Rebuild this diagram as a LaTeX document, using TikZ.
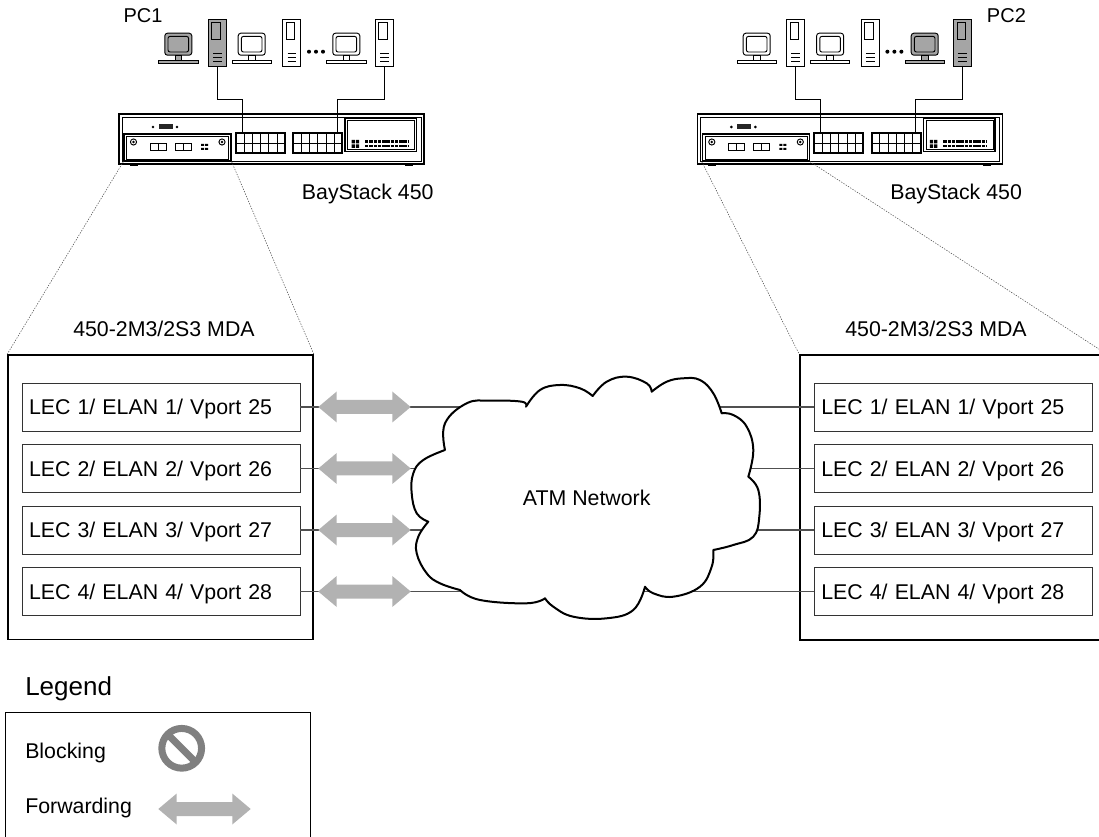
\documentclass[tikz,border=0pt]{standalone}
\usepackage{fontspec}
\setmainfont{Liberation Sans}
\usetikzlibrary{calc}
\definecolor{pcgray}{RGB}{165,165,165}
\definecolor{fwdgray}{RGB}{178,178,178}
\definecolor{blkgray}{RGB}{128,128,128}
\definecolor{linkgray}{RGB}{80,80,80}

\begin{document}
\begin{tikzpicture}[x=0.75pt,y=-0.75pt,
  lbl/.style={font=\fontsize{16}{19}\selectfont, inner sep=0pt, anchor=base west},
  pclbl/.style={font=\fontsize{15}{18}\selectfont, inner sep=0pt, anchor=base west},
  lecbox/.style={draw=black!80, line width=0.7pt, minimum width=208.5pt, minimum height=36pt,
    text width=198pt, inner xsep=5.25pt, inner ysep=0pt, align=left,
    text height=11.5pt, text depth=0pt, font=\fontsize{16}{19}\selectfont},
  mdabox/.style={draw, line width=1.2pt, inner sep=0pt},
  link/.style={draw=linkgray, line width=1.1pt},
  zoomline/.style={draw=black!70, line width=0.4pt, dash pattern=on 1pt off 1pt},
  pics/fwd/.style={code={
    \fill[fwdgray] (0,0) -- (18.4,-15.5) -- (18.4,-7) -- (74,-7) -- (74,-15.5) -- (92.4,0)
      -- (74,15.5) -- (74,7) -- (18.4,7) -- (18.4,15.5) -- cycle;}},
  pics/monitor/.style={code={
    \draw[fill=#1, rounded corners=2pt, line width=0.7pt] (-13.5,-11) rectangle (13.5,11);
    \draw[fill=#1, rounded corners=1.5pt, line width=0.7pt] (-10.3,-7.8) rectangle (10.3,7.8);
    \draw[fill=#1, line width=0.5pt] (-3.3,11) rectangle (3.3,15.8);
    \draw[fill=#1, line width=0.7pt] (-19.7,15.8) rectangle (19.7,19.5);}},
  pics/tower/.style={code={
    \node[draw, fill=#1, line width=0.7pt, minimum width=13.3pt, minimum height=35pt, inner sep=0pt] (-box) at (0,0) {};
    \draw[line width=0.6pt] (-5.5,-20.6) rectangle (2.8,-4);
    \foreach \yy in {10,14,17.7} \draw[line width=0.5pt] (-4.2,\yy) -- (4.5,\yy);}},
  pics/baystack/.style={code={
    % chassis
    \draw[line width=1pt] (0,0) rectangle (305,50);
    \draw[line width=0.5pt] (3,3) rectangle (302,47);
    \fill (11,50) rectangle (19,52.5);
    \fill (286,50) rectangle (294,52.5);
    % console port
    \fill (34,13) circle[radius=1.1pt];
    \fill (58,13) circle[radius=1.1pt];
    \fill[black!85] (40,10.5) rectangle (54,15.5);
    % media dependent adapter slot
    \node[draw, line width=0.9pt, minimum width=80.25pt, minimum height=20.25pt, inner sep=0pt] (-mda) at (58.5,33.5) {};
    \draw[line width=0.4pt] (7.5,22.5) rectangle (109.5,45);
    \draw[line width=0.7pt] (14.5,28) circle[radius=2.3pt]; \fill (14.5,28) circle[radius=1pt];
    \draw[line width=0.7pt] (103,28) circle[radius=2.3pt]; \fill (103,28) circle[radius=1pt];
    \draw[line width=0.5pt] (31,29) rectangle (39,36) (39,29) rectangle (47,36)
                           (56,29) rectangle (64,36) (64,29) rectangle (72,36);
    \fill (82,30) rectangle (85,32) (86,30) rectangle (89,32) (82,34) rectangle (85,36) (86,34) rectangle (89,36);
    % port blocks
    \node[draw, line width=1.4pt, minimum width=36.75pt, minimum height=15.5pt, inner sep=0pt] (-pa) at (141.5,29) {};
    \node[draw, line width=1.4pt, minimum width=36.75pt, minimum height=15.5pt, inner sep=0pt] (-pb) at (198.8,29) {};
    \foreach \cx in {141.5,198.8} {
      \draw[line width=0.5pt] (\cx-24.5,29) -- (\cx+24.5,29);
      \foreach \k in {1,...,5} \draw[line width=0.5pt] (\cx-24.5+\k*8.17,18.7) -- (\cx-24.5+\k*8.17,39.3);
    }
    % power / status panel
    \draw[line width=0.8pt] (226,4.3) rectangle (297.7,37.7);
    \draw[line width=0.4pt] (228.5,6.5) rectangle (295.5,35.5);
    \fill (232.5,26) rectangle (235.8,29.5) (236.8,26) rectangle (240,29.5)
          (232.5,30.5) rectangle (235.8,34) (236.8,30.5) rectangle (240,34);
    \draw[line width=2.2pt, dash pattern=on 2.6pt off 0.6pt] (246,27.7) -- (290,27.7);
    \draw[line width=1.6pt, dash pattern=on 2.6pt off 0.6pt] (246,32.4) -- (290,32.4);
  }}
]
\useasboundingbox (0,0) rectangle (1099,837);
\clip (0,0) rectangle (1099,837);

% ---------- workstations and switches ----------
\pic (swa) at (119,114) {baystack};
\pic (swb) at (697.3,114) {baystack};

\pic at (178.3,44.2) {monitor=pcgray};
\pic (ta1) at (217.2,43.3) {tower=pcgray};
\pic at (251.7,44.2) {monitor=white};
\pic (ta2) at (291.7,43.3) {tower=white};
\pic at (346.3,44.2) {monitor=white};
\pic (ta3) at (384.2,43.3) {tower=white};
\foreach \dx in {309,316,323} \fill (\dx,51.7) circle[radius=1.5pt];

\pic at (756.7,44.2) {monitor=white};
\pic (tb1) at (795.6,43.3) {tower=white};
\pic at (830.1,44.2) {monitor=white};
\pic (tb2) at (870.1,43.3) {tower=white};
\pic at (924.7,44.2) {monitor=pcgray};
\pic (tb3) at (962.6,43.3) {tower=pcgray};
\foreach \dx in {887.4,894.4,901.4} \fill (\dx,51.7) circle[radius=1.5pt];

\draw[line width=0.75pt] (ta1-box.south) -- ++(0,32.3) -| ($(swa-pa.north west)+(7.3,0)$);
\draw[line width=0.75pt] (ta3-box.south) -- ++(0,32.3) -| ($(swa-pb.north east)+(-5.6,0)$);
\draw[line width=0.75pt] (tb1-box.south) -- ++(0,32.3) -| ($(swb-pa.north west)+(7.3,0)$);
\draw[line width=0.75pt] (tb3-box.south) -- ++(0,32.3) -| ($(swb-pb.north east)+(-5.6,0)$);

\node[pclbl] (pc1) at (123.3,22.7) {PC1};
\node[pclbl] (pc2) at (986.7,22.7) {PC2};
\node[lbl] (bsa) at (301.7,200) {BayStack 450};
\node[lbl] (bsb) at (890,200) {BayStack 450};

% ---------- adapter detail boxes ----------
\node[mdabox, minimum width=228.75pt, minimum height=213.4pt] (mdaL) at (160.5,497.25) {};
\node[mdabox, minimum width=229.5pt, minimum height=213.75pt] (mdaR) at (953,497.5) {};
\node[lbl] (tL) at (73,336.7) {450-2M3/2S3 MDA};
\node[lbl] (tR) at (845,336.7) {450-2M3/2S3 MDA};

\draw[zoomline] (swa-mda.south west) -- (mdaL.north west);
\draw[zoomline] (swa-mda.south east) -- (mdaL.north east);
\draw[zoomline] (swb-mda.south west) -- (mdaR.north west);
\draw[zoomline] (swb-mda.south east) -- (mdaR.north east);

\foreach \i/\y/\p in {1/407/25, 2/468.5/26, 3/530/27, 4/591.5/28} {
  \node[lecbox] (la\i) at (161,\y) {LEC \i/ ELAN \i/ Vport \p};
  \node[lecbox] (lb\i) at (953.25,\y) {LEC \i/ ELAN \i/ Vport \p};
  \draw[link] (la\i.east) -- (lb\i.west);
}

% ---------- ATM cloud ----------
\filldraw[fill=white, line width=1.5pt, line join=round]
  plot[smooth, tension=0.7] coordinates {(445,450) (445,423.3) (466.7,403.3) (490,400.7) (521.7,401.7) (526,406.7)}
  -- plot[smooth, tension=0.7] coordinates {(526,406.7) (540,390) (560,385) (580,388.3) (592.7,396)}
  -- plot[smooth, tension=0.7] coordinates {(592.7,396) (606.7,381.7) (626.7,376.7) (646.7,383.3) (651.7,391.7)}
  -- plot[smooth, tension=0.7] coordinates {(651.7,391.7) (666.7,381.7) (683.3,378.3) (700,380) (713.3,393.3) (721.7,413.3)}
  -- plot[smooth, tension=0.7] coordinates {(721.7,413.3) (733.3,415) (746.7,426.7) (753.3,450) (748.3,476.7)}
  -- plot[smooth, tension=0.7] coordinates {(748.3,476.7) (758.3,490) (759.3,516.7) (753.3,536.7) (733.3,545) (713.3,550)}
  -- plot[smooth, tension=0.7] coordinates {(713.3,550) (711.7,566.7) (700,586.7) (673.3,596.7) (653.3,593.3) (645,586.7)}
  -- plot[smooth, tension=0.7] coordinates {(645,586.7) (633.3,610) (606.7,618.3) (573.3,616.7) (553.3,606.7) (545,598.3)}
  -- plot[smooth, tension=0.7] coordinates {(545,598.3) (526.7,603.3) (480,600) (460,590)}
  -- plot[smooth, tension=0.7] coordinates {(460,590) (440,583.3) (426.7,573.3) (416.7,553.3) (418.3,536.7) (428.3,521.7)}
  -- plot[smooth, tension=0.7] coordinates {(428.3,521.7) (416.7,513.3) (411.7,493.3) (413.3,473.3) (423.3,460) (445,450)}
  -- cycle;
\node[font=\fontsize{16}{19}\selectfont, inner sep=0pt, anchor=base] (atm) at (586.7,505) {ATM Network};

\foreach \y in {407,468.5,530,591.5} \pic at (318.3,\y) {fwd};

% ---------- legend ----------
\node[font=\fontsize{19.5}{23}\selectfont, inner sep=0pt, anchor=base west] (leg) at (25,695) {Legend};
\draw[line width=0.7pt] (310.7,850) -- (310.7,712.7) -- (5,712.7) -- (5,850);
\node[lbl] (blk) at (25,758) {Blocking};
\node[lbl] (fwd) at (25,813) {Forwarding};
\node[circle, draw=blkgray, line width=5.25pt, minimum size=29.8pt, inner sep=0pt] (blksym) at (181.7,748.3) {};
\draw[blkgray, line width=5.25pt] ($(blksym.center)+(-14.5,-14.5)$) -- ($(blksym.center)+(14.5,14.5)$);
\pic at (158.3,809) {fwd};
\end{tikzpicture}
\end{document}
